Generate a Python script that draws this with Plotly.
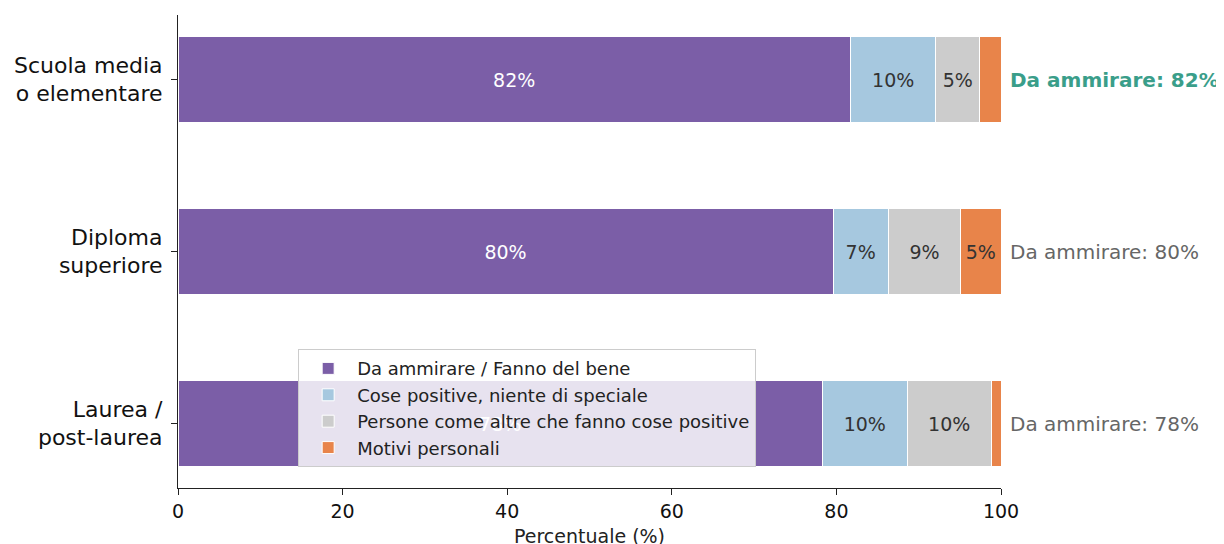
import plotly.graph_objects as go

categories = ["Scuola media<br>o elementare", "Diploma<br>superiore", "Laurea /<br>post-laurea"]
series_names = ["Da ammirare / Fanno del bene", "Cose positive, niente di speciale",
                "Persone come altre che fanno cose positive", "Motivi personali"]
ammirare = [81.7, 79.6, 78.3]
positive = [10.4, 6.7, 10.3]
come_altre = [5.3, 8.8, 10.2]
personali = [2.6, 4.9, 1.2]
summary_labels = ["Da ammirare: 82%", "Da ammirare: 80%", "Da ammirare: 78%"]

colors = ["#7b5ea7", "#a6c8df", "#cccccc", "#e8844a"]
text_colors = ["white", "#333333", "#333333", "#333333"]
series = [ammirare, positive, come_altre, personali]
ypos = list(range(len(categories)))

fig = go.Figure()
for name, vals, col, tcol in zip(series_names, series, colors, text_colors):
    labels = [f"{v:.0f}%" if v >= 3 else "" for v in vals]
    fig.add_trace(go.Bar(
        y=ypos, x=vals, orientation="h", name=name, width=0.5,
        marker=dict(color=col, line=dict(color="white", width=1)),
        text=labels, textposition="inside", insidetextanchor="middle",
        textfont=dict(color=tcol, size=19, family="DejaVu Sans"),
        constraintext="none",
    ))

for i, lab in enumerate(summary_labels):
    first = i == 0
    fig.add_annotation(
        x=1.0, y=ypos[i], xref="paper", yref="y", xshift=7,
        text=f"<b>{lab}</b>" if first else lab,
        showarrow=False, xanchor="left", yanchor="middle",
        font=dict(size=20, family="DejaVu Sans", color="#3a9e8a" if first else "#666666"),
    )

fig.update_layout(
    barmode="stack",
    width=1224, height=544,
    margin=dict(l=170, r=231, t=7, b=64),
    plot_bgcolor="white", paper_bgcolor="white",
    font=dict(family="DejaVu Sans", color="#222222"),
    showlegend=True,
    legend=dict(
        x=0.146, y=0.044, xanchor="left", yanchor="bottom",
        bgcolor="rgba(255,255,255,0.82)", bordercolor="#cccccc", borderwidth=1,
        font=dict(size=18, family="DejaVu Sans", color="#222222"),
        traceorder="normal", tracegroupgap=0, itemwidth=48,
    ),
    xaxis=dict(
        range=[0, 100], tickvals=[0, 20, 40, 60, 80, 100],
        showgrid=False, zeroline=False, showline=True, linecolor="#222222", linewidth=1.2,
        ticks="outside", ticklen=6, tickcolor="#222222",
        tickfont=dict(size=19, family="DejaVu Sans", color="#111111"),
        title=dict(text="Percentuale (%)", font=dict(size=19, family="DejaVu Sans"), standoff=8),
    ),
    yaxis=dict(
        range=[2.375, -0.375], tickvals=ypos, ticktext=categories,
        showgrid=False, zeroline=False, showline=True, linecolor="#222222", linewidth=1.2,
        ticks="outside", ticklen=6, tickcolor="#222222", ticklabelstandoff=4,
        tickfont=dict(size=22, family="DejaVu Sans", color="#111111"),
    ),
)

fig.write_html("out.html")
